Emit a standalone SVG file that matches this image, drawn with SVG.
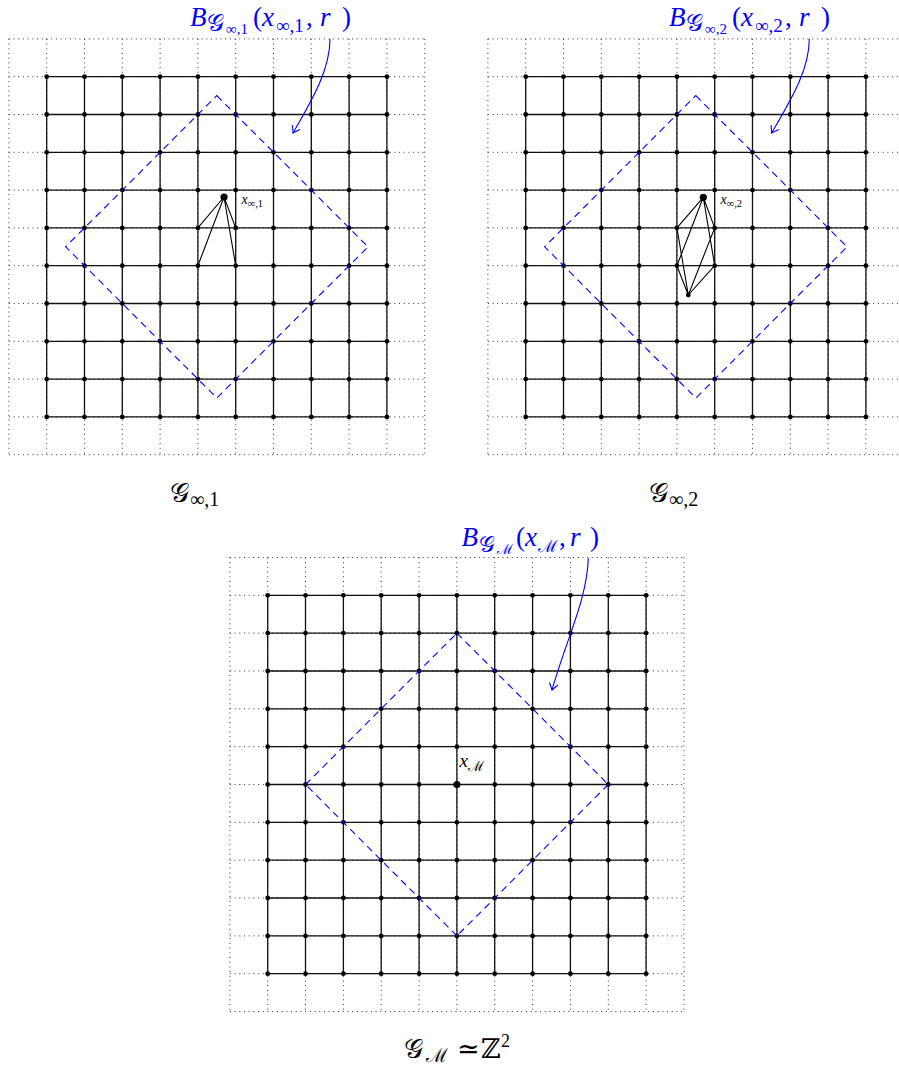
<svg xmlns="http://www.w3.org/2000/svg" width="899" height="1068" viewBox="0 0 899 1068">
<style>
.grid{stroke:#111;stroke-width:1.3;fill:none}
.dotted{stroke:#333;stroke-width:1;stroke-dasharray:1 3.7;fill:none}
.ball{stroke:#0000ff;stroke-width:1.1;stroke-dasharray:7 5;fill:none}
.edge{stroke:#000;stroke-width:1.1;fill:none}
.arrow{stroke:#0000ff;stroke-width:1.1;fill:none;marker-end:url(#ah)}
text{font-family:"Liberation Serif","DejaVu Serif",serif;fill:#000}
.it{font-style:italic}
.blue{fill:#0000ff}
</style>
<defs>
<circle id="d" r="2.4" fill="#000"/>
<circle id="D" r="3.6" fill="#000"/>
<g id="row10"><use href="#d" x="0"/><use href="#d" x="37.8"/><use href="#d" x="75.6"/><use href="#d" x="113.4"/><use href="#d" x="151.2"/><use href="#d" x="189"/><use href="#d" x="226.8"/><use href="#d" x="264.6"/><use href="#d" x="302.4"/><use href="#d" x="340.2"/></g>
<g id="row11"><use href="#d" x="0"/><use href="#d" x="37.84"/><use href="#d" x="75.68"/><use href="#d" x="113.52"/><use href="#d" x="151.36"/><use href="#d" x="189.2"/><use href="#d" x="227.04"/><use href="#d" x="264.88"/><use href="#d" x="302.72"/><use href="#d" x="340.56"/><use href="#d" x="378.4"/></g>
<marker id="ah" markerUnits="userSpaceOnUse" viewBox="-8 -6 10 12" markerWidth="10" markerHeight="12" refX="0" refY="0" orient="auto"><path d="M-6.5,-4.5 Q-2,-1.2 0,0 Q-2,1.2 -6.5,4.5" stroke="#0000ff" stroke-width="1.1" fill="none"/></marker>
<g id="base10">
<path class="dotted" d="M8.9 38.9H424.7M8.9 76.7H424.7M8.9 114.5H424.7M8.9 152.3H424.7M8.9 190.1H424.7M8.9 227.9H424.7M8.9 265.7H424.7M8.9 303.5H424.7M8.9 341.3H424.7M8.9 379.1H424.7M8.9 416.9H424.7M8.9 454.7H424.7M8.9 38.9V454.7M46.7 38.9V454.7M84.5 38.9V454.7M122.3 38.9V454.7M160.1 38.9V454.7M197.9 38.9V454.7M235.7 38.9V454.7M273.5 38.9V454.7M311.3 38.9V454.7M349.1 38.9V454.7M386.9 38.9V454.7M424.7 38.9V454.7"/>
<path class="grid" d="M46.7 76.7H386.9M46.7 114.5H386.9M46.7 152.3H386.9M46.7 190.1H386.9M46.7 227.9H386.9M46.7 265.7H386.9M46.7 303.5H386.9M46.7 341.3H386.9M46.7 379.1H386.9M46.7 416.9H386.9M46.7 76.7V416.9M84.5 76.7V416.9M122.3 76.7V416.9M160.1 76.7V416.9M197.9 76.7V416.9M235.7 76.7V416.9M273.5 76.7V416.9M311.3 76.7V416.9M349.1 76.7V416.9M386.9 76.7V416.9"/>
<use href="#row10" x="46.7" y="76.7"/><use href="#row10" x="46.7" y="114.5"/><use href="#row10" x="46.7" y="152.3"/><use href="#row10" x="46.7" y="190.1"/><use href="#row10" x="46.7" y="227.9"/><use href="#row10" x="46.7" y="265.7"/><use href="#row10" x="46.7" y="303.5"/><use href="#row10" x="46.7" y="341.3"/><use href="#row10" x="46.7" y="379.1"/><use href="#row10" x="46.7" y="416.9"/>
<path class="ball" stroke="#0000ff" d="M216.8 95.6L368 246.8L216.8 398L65.6 246.8Z"/>
</g>
</defs>

<g id="panel-g-inf-1">
<use href="#base10"/>
<g id="connectors-1">
<path class="edge" d="M224 197L197.9 227.9M224 197L197.9 265.7M224 197L235.7 227.9M224 197L235.7 265.7"/>
</g>
<g id="node-x-inf-1"><use href="#D" x="224" y="197"/>
<text x="241.5" y="204" font-size="14" class="it">x<tspan font-style="normal" font-size="10.5" dy="3">∞,1</tspan></text></g>
</g>

<g id="panel-g-inf-2">
<g transform="translate(479,0)">
<use href="#base10"/>
<g id="connectors-2">
<path class="edge" d="M224.3 197.3L197.9 227.9M224.3 197.3L235.7 227.9M224.3 197.3L197.9 265.7M224.3 197.3L235.7 265.7M209.3 295L197.9 227.9M209.3 295L235.7 227.9M209.3 295L197.9 265.7M209.3 295L235.7 265.7"/>
</g>
<g id="node-extra-2"><use href="#d" x="209.3" y="295"/></g>
<g id="node-x-inf-2"><use href="#D" x="224.3" y="197.3"/></g>
</g>
<text x="720.5" y="204" font-size="14" class="it">x<tspan font-style="normal" font-size="10.5" dy="3">∞,2</tspan></text>
</g>

<g id="panel-g-m">
<path class="dotted" d="M229.9 557.5H683.9M229.9 595.3H683.9M229.9 633.1H683.9M229.9 671H683.9M229.9 708.8H683.9M229.9 746.7H683.9M229.9 784.5H683.9M229.9 822.3H683.9M229.9 860.2H683.9M229.9 898H683.9M229.9 935.9H683.9M229.9 973.7H683.9M229.9 1011.5H683.9M229.9 557.5V1011.5M267.7 557.5V1011.5M305.5 557.5V1011.5M343.4 557.5V1011.5M381.2 557.5V1011.5M419.1 557.5V1011.5M456.9 557.5V1011.5M494.7 557.5V1011.5M532.6 557.5V1011.5M570.4 557.5V1011.5M608.3 557.5V1011.5M646.1 557.5V1011.5M683.9 557.5V1011.5"/>
<path class="grid" d="M267.7 595.3H646.1M267.7 633.1H646.1M267.7 671H646.1M267.7 708.8H646.1M267.7 746.7H646.1M267.7 784.5H646.1M267.7 822.3H646.1M267.7 860.2H646.1M267.7 898H646.1M267.7 935.9H646.1M267.7 973.7H646.1M267.7 595.3V973.7M305.5 595.3V973.7M343.4 595.3V973.7M381.2 595.3V973.7M419.1 595.3V973.7M456.9 595.3V973.7M494.7 595.3V973.7M532.6 595.3V973.7M570.4 595.3V973.7M608.3 595.3V973.7M646.1 595.3V973.7"/>
<g id="nodes-m">
<use href="#row11" x="267.7" y="595.3"/><use href="#row11" x="267.7" y="633.1"/><use href="#row11" x="267.7" y="671"/><use href="#row11" x="267.7" y="708.8"/><use href="#row11" x="267.7" y="746.7"/><use href="#row11" x="267.7" y="784.5"/><use href="#row11" x="267.7" y="822.3"/><use href="#row11" x="267.7" y="860.2"/><use href="#row11" x="267.7" y="898"/><use href="#row11" x="267.7" y="935.9"/><use href="#row11" x="267.7" y="973.7"/>
</g>
<path class="ball" stroke="#0000ff" d="M456.9 633.1L608.3 784.5"/>
<path class="ball" stroke="#0000ff" d="M608.3 784.5L456.9 935.9"/>
<path class="ball" stroke="#0000ff" d="M456.9 935.9L305.5 784.5"/>
<path class="ball" stroke="#0000ff" d="M305.5 784.5L456.9 633.1"/>
<g id="node-x-m"><use href="#D" x="456.9" y="784.5"/>
<text x="459.5" y="767" font-size="19" class="it">x<tspan font-style="normal" font-size="14" dy="4">ℳ</tspan></text></g>
</g>

<g id="connectors">
<path class="arrow" d="M330 39C330 70 312 100 293 133"/>
<path class="arrow" d="M809.3 39C809.3 70 790.7 100 771.7 133"/>
<path class="arrow" d="M588.3 558.3C587 600 566 640 552 690"/>
</g>

<g id="labels">
<text class="blue" font-size="27" y="26"><tspan x="190" class="it">B</tspan><tspan x="207" y="31" font-size="24">𝒢</tspan><tspan x="226" y="34" font-size="15">∞,1</tspan><tspan x="253" y="26">(</tspan><tspan x="262" class="it">x</tspan><tspan x="276" y="32" font-size="19">∞,1</tspan><tspan x="306" y="26">,</tspan><tspan x="320" class="it">r</tspan><tspan x="342">)</tspan></text>
<text class="blue" font-size="27" y="26"><tspan x="669" class="it">B</tspan><tspan x="686" y="31" font-size="24">𝒢</tspan><tspan x="705" y="34" font-size="15">∞,2</tspan><tspan x="732" y="26">(</tspan><tspan x="741" class="it">x</tspan><tspan x="755" y="32" font-size="19">∞,2</tspan><tspan x="785" y="26">,</tspan><tspan x="799" class="it">r</tspan><tspan x="821">)</tspan></text>
<text class="blue" font-size="27" y="546"><tspan x="461.5" class="it">B</tspan><tspan x="479" y="551.5" font-size="22">𝒢</tspan><tspan x="497" y="554" font-size="14">ℳ</tspan><tspan x="516" y="546">(</tspan><tspan x="525" class="it">x</tspan><tspan x="538" y="551.5" font-size="17">ℳ</tspan><tspan x="559" y="546">,</tspan><tspan x="570" class="it">r</tspan><tspan x="590">)</tspan></text>
<text font-size="27" y="502"><tspan x="170">𝒢</tspan><tspan x="190" y="506" font-size="20">∞,1</tspan></text>
<text font-size="27" y="502"><tspan x="649">𝒢</tspan><tspan x="669" y="506" font-size="20">∞,2</tspan></text>
<text font-size="27" y="1058"><tspan x="404">𝒢</tspan><tspan x="426" y="1062" font-size="19">ℳ</tspan><tspan x="457" y="1058">≃</tspan><tspan x="481">ℤ</tspan><tspan x="501" y="1047" font-size="18">2</tspan></text>
</g>
</svg>
